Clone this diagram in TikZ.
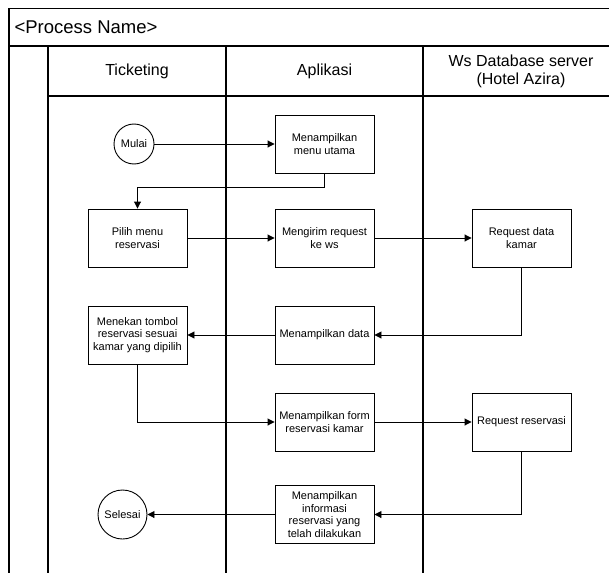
\documentclass[tikz,border=0pt]{standalone}
\usepackage{fontspec}
\setmainfont{Liberation Sans}
\usetikzlibrary{arrows.meta}
\begin{document}
\begin{tikzpicture}[x=1pt,y=-1pt,
  lane/.style={line width=1.2pt, draw=black},
  proc/.style={draw, line width=0.9pt, minimum width=99pt, minimum height=58pt,
    inner sep=1pt, align=center, font=\fontsize{11}{12.5}\selectfont},
  term/.style={draw, circle, line width=0.9pt, inner sep=0pt,
    font=\fontsize{11}{12.5}\selectfont},
  flow/.style={line width=0.9pt, -{Triangle[length=7pt,width=7pt]}},
  hdr/.style={font=\fontsize{16}{18}\selectfont, align=center}]
\useasboundingbox (0,0) rectangle (609,572);
\clip (0,0) rectangle (609,572);

% pool and lane frame
\draw[lane] (9,590) -- (9,8.5) -- (640,8.5);
\draw[lane] (9,46) -- (640,46);
\draw[lane] (48,590) -- (48,46);
\draw[lane] (226,590) -- (226,46);
\draw[lane] (423,590) -- (423,46);
\draw[lane] (48,96) -- (640,96);

% pool title and lane headers
\node[anchor=west, font=\fontsize{18.5}{20}\selectfont] (pool) at (11,27) {<Process Name>};
\node[hdr] (lane1) at (137,71) {Ticketing};
\node[hdr] (lane2) at (324.5,71) {Aplikasi};
\node[hdr] (lane3) at (521,71) {Ws Database server\\(Hotel Azira)};

% activities
\node[term, minimum size=40pt] (start) at (134,144) {Mulai};
\node[proc] (a1) at (324.5,144) {Menampilkan\\menu utama};
\node[proc] (t1) at (137.5,238) {Pilih menu\\reservasi};
\node[proc] (a2) at (324.5,238) {Mengirim request\\ke ws};
\node[proc] (w1) at (521.5,238) {Request data\\kamar};
\node[proc] (a3) at (324.5,335) {Menampilkan data};
\node[proc] (t2) at (137.5,335) {Menekan tombol\\reservasi sesuai\\kamar yang dipilih};
\node[proc] (a4) at (324.5,422) {Menampilkan form\\reservasi kamar};
\node[proc] (w2) at (521.5,422) {Request reservasi};
\node[proc] (a5) at (324.5,514.5) {Menampilkan\\informasi\\reservasi yang\\telah dilakukan};
\node[term, minimum size=49pt] (end) at (122.5,514.5) {Selesai};

% flow
\draw[flow] (start) -- (a1);
\draw[flow] (a1.south) -- ++(0,14) -| (t1.north);
\draw[flow] (t1) -- (a2);
\draw[flow] (a2) -- (w1);
\draw[flow] (w1.south) |- (a3.east);
\draw[flow] (a3) -- (t2);
\draw[flow] (t2.south) |- (a4.west);
\draw[flow] (a4) -- (w2);
\draw[flow] (w2.south) |- (a5.east);
\draw[flow] (a5) -- (end);
\end{tikzpicture}
\end{document}
